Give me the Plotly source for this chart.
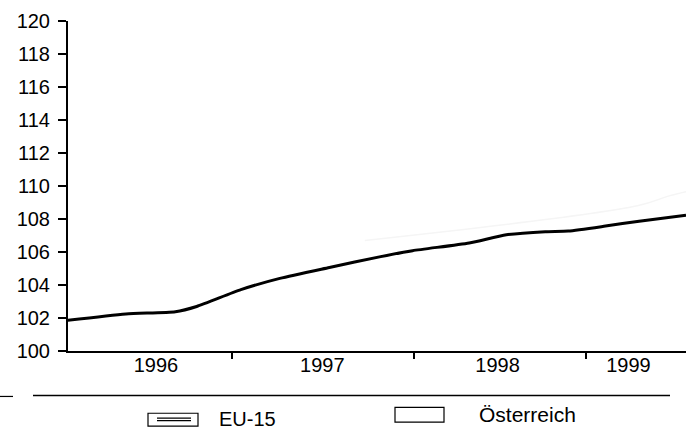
import plotly.graph_objects as go

# EU-15 index values (x as fractional years)
eu_x = [1996.07, 1996.40, 1996.68, 1996.80, 1997.05, 1997.27, 1997.55, 1997.84,
        1998.02, 1998.34, 1998.55, 1998.77, 1998.90, 1999.11, 1999.30, 1999.565]
eu_y = [101.86, 102.25, 102.38, 102.70, 103.72, 104.40, 105.06, 105.72,
        106.08, 106.55, 107.04, 107.23, 107.27, 107.57, 107.87, 108.23]

# Österreich (faded in the source, only fragments visible)
at_x = [1997.75, 1999.29, 1999.47, 1999.565]
at_y = [106.70, 108.80, 109.40, 109.65]

year_labels = ["1996", "1997", "1998", "1999"]
year_label_pos = [1996.57, 1997.51, 1998.50, 1999.24]
year_bounds = [1997, 1998.03, 1999]
y_ticks = list(range(100, 121, 2))

FONT = "Liberation Sans, Arial, Helvetica, sans-serif"

fig = go.Figure()
fig.add_trace(go.Scatter(x=at_x, y=at_y, mode="lines", name="Österreich",
                         line=dict(color="#f5f5f5", width=1.5, shape="spline"),
                         showlegend=False, hoverinfo="skip"))
fig.add_trace(go.Scatter(x=eu_x, y=eu_y, mode="lines", name="EU-15",
                         line=dict(color="black", width=3, shape="spline", smoothing=0.6),
                         showlegend=False))

fig.update_layout(
    width=696, height=436,
    margin=dict(l=68, r=10, t=17, b=85),
    paper_bgcolor="white", plot_bgcolor="white",
    font=dict(family=FONT, color="black"),
    showlegend=False,
    xaxis=dict(
        range=[1996.073, 1999.565], showgrid=False, zeroline=False,
        showline=True, linecolor="black", linewidth=2,
        tickmode="array", tickvals=year_label_pos, ticktext=year_labels,
        ticks="", tickfont=dict(size=20, family=FONT, color="black"),
        ticklabelstandoff=-5,
        minor=dict(tickmode="array", tickvals=year_bounds, ticks="outside",
                   ticklen=6, tickwidth=1.5, tickcolor="black", showgrid=False),
    ),
    yaxis=dict(
        range=[100, 120], showgrid=False, zeroline=False,
        showline=True, linecolor="black", linewidth=2,
        tickmode="array", tickvals=y_ticks,
        ticks="outside", ticklen=8, tickwidth=2, tickcolor="black",
        tickfont=dict(size=20, family=FONT, color="black"),
        ticklabelstandoff=4,
    ),
)

def px_x(p):
    return (p - 68) / 618.0

def px_y(p):
    return (351 - p) / 334.0

shapes = [
    # legend separator line
    dict(type="line", xref="paper", yref="paper", x0=px_x(33), x1=px_x(670),
         y0=px_y(396), y1=px_y(396), line=dict(color="black", width=1.5)),
    # small dash at left edge
    dict(type="line", xref="paper", yref="paper", x0=px_x(0), x1=px_x(13),
         y0=px_y(397), y1=px_y(397), line=dict(color="black", width=1.2)),
    # EU-15 legend box
    dict(type="rect", xref="paper", yref="paper", x0=px_x(148), x1=px_x(198),
         y0=px_y(427), y1=px_y(414), line=dict(color="black", width=1.2)),
    dict(type="line", xref="paper", yref="paper", x0=px_x(157), x1=px_x(191),
         y0=px_y(419), y1=px_y(419), line=dict(color="black", width=1.2)),
    dict(type="line", xref="paper", yref="paper", x0=px_x(157), x1=px_x(191),
         y0=px_y(421.5), y1=px_y(421.5), line=dict(color="black", width=1.2)),
    # Österreich legend box
    dict(type="rect", xref="paper", yref="paper", x0=px_x(395), x1=px_x(444),
         y0=px_y(423), y1=px_y(408), line=dict(color="black", width=1.2)),
]
fig.update_layout(shapes=shapes)

fig.add_annotation(text="EU-15", xref="paper", yref="paper", x=px_x(217), y=px_y(420),
                   xanchor="left", yanchor="middle", showarrow=False,
                   font=dict(size=20, family=FONT, color="black"))
fig.add_annotation(text="Österreich", xref="paper", yref="paper", x=px_x(477), y=px_y(415),
                   xanchor="left", yanchor="middle", showarrow=False,
                   font=dict(size=21, family=FONT, color="black"))

fig.write_html("out.html", config={"displayModeBar": False},
               post_script="document.body.style.margin='0px';document.body.style.overflow='hidden';")
